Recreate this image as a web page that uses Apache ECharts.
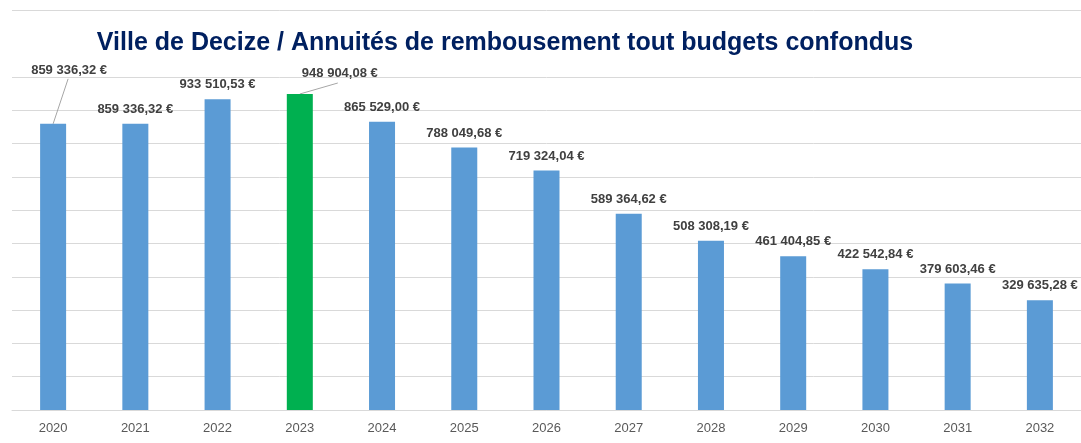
<!DOCTYPE html>
<html>
<head>
<meta charset="utf-8">
<script src="https://cdn.jsdelivr.net/npm/echarts@6/dist/echarts.min.js"></script>
<style>
  html, body { margin: 0; padding: 0; background: #fff; }
  #chart { width: 1081px; height: 443px; }
</style>
</head>
<body>
<div id="chart"></div>
<script>
const years = ['2020', '2021', '2022', '2023', '2024', '2025', '2026', '2027', '2028', '2029', '2030', '2031', '2032']
const annuites = [859336.32, 859336.32, 933510.53, 948904.08, 865529.00, 788049.68, 719324.04,
  589364.62, 508308.19, 461404.85, 422542.84, 379603.46, 329635.28]
const highlightYear = '2023'
// étiquettes déplacées (décalage en px) et bout du trait de rappel
const movedLabels = { 0: [16, -39], 3: [40, -6] }
const leaderEnds = { 0: [15, -45], 3: [38, -11] }

function formatEuro (v) {
  const parts = v.toFixed(2).split('.')
  const entier = parts[0].replace(/\B(?=(\d{3})+(?!\d))/g, ' ')
  return entier + ',' + parts[1] + ' €'
}

const chart = echarts.init(document.getElementById('chart'))
const option = {
  animation: false,
  textStyle: { fontFamily: 'Liberation Sans' },
  title: {
    text: 'Ville de Decize / Annuités de rembousement tout budgets confondus',
    left: 500,
    top: 26,
    textAlign: 'center',
    textStyle: {
      color: '#002060',
      fontSize: 25,
      fontWeight: 'bold',
      fontFamily: 'Liberation Sans'
    }
  },
  grid: { left: 12, right: 0, top: 77, bottom: 33 },
  xAxis: {
    type: 'category',
    data: years,
    axisTick: { show: false },
    axisLine: { lineStyle: { color: '#d9d9d9' } },
    axisLabel: { color: '#595959', fontSize: 13, margin: 12 }
  },
  yAxis: {
    type: 'value',
    min: 0,
    max: 1000000,
    interval: 100000,
    axisLabel: { show: false },
    axisLine: { show: false },
    axisTick: { show: false },
    splitLine: { lineStyle: { color: '#d9d9d9' } }
  },
  series: [{
    type: 'bar',
    barWidth: 26,
    data: annuites.map((v, i) => ({
      value: v,
      itemStyle: { color: years[i] === highlightYear ? '#00B050' : '#5B9BD5' }
    })),
    label: {
      show: true,
      position: 'top',
      distance: 8,
      color: '#404040',
      fontSize: 13,
      fontWeight: 'bold',
      formatter: p => formatEuro(p.value)
    },
    labelLayout: function (params) {
      const off = movedLabels[params.dataIndex]
      if (off) return { dx: off[0], dy: off[1] }
      return {}
    }
  }]
}
chart.setOption(option)

// traits de rappel : du haut de la barre vers l'étiquette déplacée
const graphics = [{
  type: 'line',
  shape: { x1: 12, y1: 10.5, x2: 1081, y2: 10.5 },
  style: { stroke: '#d9d9d9', lineWidth: 1 },
  silent: true
}]
Object.keys(leaderEnds).forEach(k => {
  const i = Number(k)
  const p = chart.convertToPixel({ seriesIndex: 0 }, [years[i], annuites[i]])
  graphics.push({
    type: 'line',
    shape: { x1: p[0], y1: p[1], x2: p[0] + leaderEnds[k][0], y2: p[1] + leaderEnds[k][1] },
    style: { stroke: '#a6a6a6', lineWidth: 1 },
    silent: true
  })
})
chart.setOption({ graphic: graphics })
</script>
</body>
</html>
